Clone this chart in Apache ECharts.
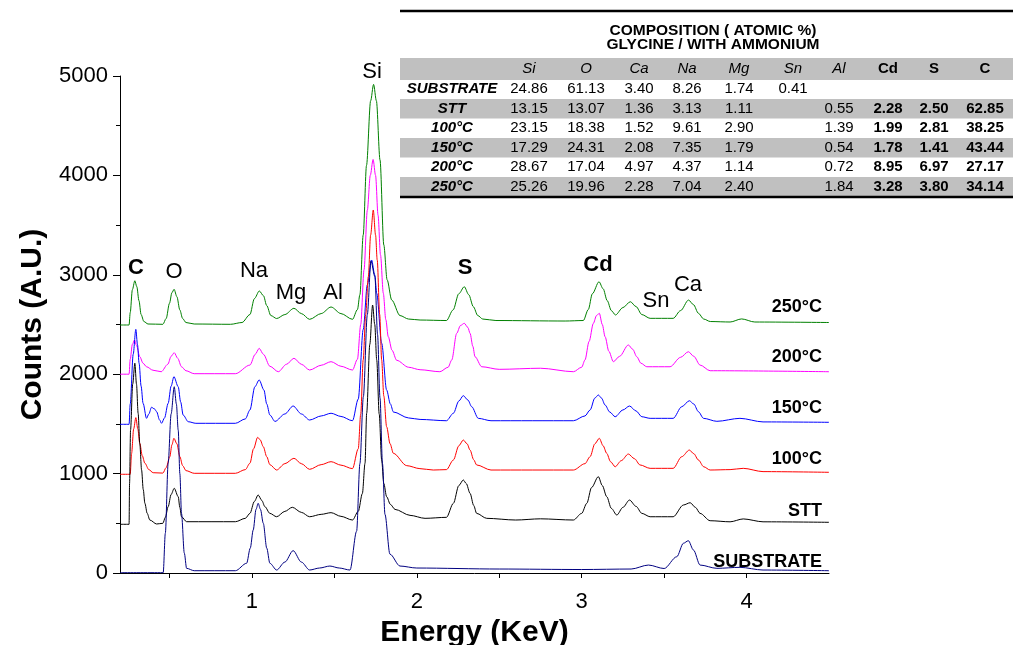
<!DOCTYPE html>
<html>
<head>
<meta charset="utf-8">
<script src="https://cdn.jsdelivr.net/npm/echarts@6/dist/echarts.min.js"></script>
<style>
html, body { margin: 0; padding: 0; background: #fff; }
#chart { width: 1013px; height: 645px; }
</style>
</head>
<body>
<div id="chart"></div>
<script>
// EDS spectra, energy (keV) vs counts, each sample offset by 500
var spec250 = [[0.2,2495],[0.255,2495],[0.262,2620],[0.275,2850],[0.29,2940],[0.302,2880],[0.315,2740],[0.328,2600],[0.345,2530],[0.37,2505],[0.46,2502],[0.48,2560],[0.5,2713],[0.515,2820],[0.528,2854],[0.545,2780],[0.563,2646],[0.58,2560],[0.6,2520],[0.65,2505],[0.87,2502],[0.94,2520],[0.988,2600],[1.015,2760],[1.045,2837],[1.07,2790],[1.09,2690],[1.115,2590],[1.15,2560],[1.2,2600],[1.255,2663],[1.3,2610],[1.35,2552],[1.42,2610],[1.48,2676],[1.54,2610],[1.61,2552],[1.64,2650],[1.655,2800],[1.675,3400],[1.695,4100],[1.72,4750],[1.738,4915],[1.755,4750],[1.777,4155],[1.8,3300],[1.82,2950],[1.848,2746],[1.898,2590],[1.95,2555],[2.02,2545],[2.18,2540],[2.22,2646],[2.255,2810],[2.288,2880],[2.315,2800],[2.343,2679],[2.37,2590],[2.4,2555],[2.48,2540],[2.9,2535],[3.01,2540],[3.04,2650],[3.065,2810],[3.105,2930],[3.13,2860],[3.155,2740],[3.18,2640],[3.205,2596],[3.25,2670],[3.295,2729],[3.33,2680],[3.365,2600],[3.415,2562],[3.555,2562],[3.6,2640],[3.648,2746],[3.678,2700],[3.708,2613],[3.74,2555],[3.78,2530],[3.9,2525],[3.97,2556],[4.05,2525],[4.5,2520]];
var spec200 = [[0.2,2000],[0.255,2000],[0.262,2150],[0.275,2300],[0.288,2344],[0.3,2290],[0.32,2176],[0.34,2110],[0.361,2075],[0.4,2040],[0.45,2025],[0.49,2100],[0.51,2180],[0.529,2216],[0.55,2160],[0.573,2075],[0.6,2035],[0.65,2005],[0.9,2005],[0.988,2092],[1.02,2200],[1.044,2260],[1.07,2200],[1.109,2080],[1.16,2025],[1.21,2100],[1.255,2160],[1.3,2100],[1.35,2042],[1.42,2090],[1.48,2126],[1.54,2080],[1.61,2042],[1.64,2150],[1.66,2500],[1.68,3050],[1.7,3650],[1.718,4000],[1.735,4160],[1.75,4000],[1.765,3600],[1.78,3200],[1.797,2814],[1.812,2550],[1.827,2377],[1.85,2240],[1.878,2140],[1.95,2070],[2.02,2045],[2.14,2025],[2.19,2070],[2.212,2143],[2.242,2411],[2.265,2490],[2.288,2512],[2.31,2470],[2.323,2411],[2.34,2280],[2.353,2176],[2.394,2075],[2.5,2049],[2.75,2060],[2.95,2025],[3.0,2070],[3.02,2143],[3.045,2330],[3.071,2512],[3.09,2590],[3.107,2613],[3.125,2500],[3.142,2377],[3.165,2230],[3.192,2126],[3.23,2180],[3.283,2294],[3.31,2250],[3.334,2176],[3.36,2110],[3.395,2075],[3.536,2075],[3.6,2170],[3.647,2226],[3.68,2180],[3.718,2092],[3.779,2035],[4.5,2025]];
var spec150 = [[0.2,1496],[0.255,1496],[0.262,1700],[0.28,2200],[0.296,2451],[0.306,2300],[0.316,2110],[0.328,1880],[0.34,1707],[0.361,1556],[0.375,1600],[0.391,1667],[0.41,1650],[0.422,1623],[0.44,1540],[0.452,1506],[0.47,1560],[0.492,1707],[0.51,1880],[0.527,1975],[0.553,1874],[0.568,1720],[0.583,1589],[0.614,1522],[0.66,1506],[0.9,1506],[0.96,1550],[0.988,1640],[1.018,1874],[1.044,1942],[1.073,1841],[1.09,1700],[1.109,1589],[1.14,1525],[1.2,1600],[1.25,1680],[1.3,1600],[1.35,1539],[1.42,1580],[1.48,1607],[1.54,1575],[1.61,1532],[1.645,1750],[1.675,2450],[1.7,2900],[1.726,3149],[1.745,3000],[1.757,2814],[1.787,2311],[1.817,1841],[1.84,1700],[1.858,1620],[1.95,1560],[2.02,1545],[2.18,1532],[2.222,1607],[2.255,1730],[2.282,1784],[2.31,1740],[2.333,1673],[2.373,1556],[2.45,1532],[2.95,1532],[3.02,1580],[3.051,1640],[3.08,1760],[3.101,1791],[3.12,1760],[3.142,1690],[3.17,1620],[3.203,1572],[3.25,1640],[3.29,1680],[3.33,1630],[3.365,1572],[3.415,1556],[3.555,1556],[3.607,1673],[3.653,1733],[3.68,1700],[3.708,1623],[3.739,1556],[3.82,1526],[3.96,1556],[4.1,1520],[4.5,1516]];
var spec100 = [[0.2,993],[0.262,993],[0.27,1200],[0.283,1450],[0.296,1563],[0.308,1450],[0.32,1305],[0.335,1180],[0.351,1104],[0.375,1040],[0.401,1009],[0.46,1005],[0.48,1060],[0.502,1170],[0.515,1290],[0.527,1355],[0.545,1300],[0.563,1170],[0.58,1080],[0.6,1030],[0.65,1003],[0.9,1003],[0.96,1040],[0.988,1104],[1.01,1250],[1.035,1365],[1.05,1340],[1.069,1271],[1.09,1170],[1.109,1090],[1.15,1036],[1.2,1100],[1.255,1154],[1.3,1100],[1.35,1043],[1.42,1090],[1.48,1120],[1.54,1085],[1.61,1050],[1.645,1250],[1.66,1600],[1.675,2143],[1.69,2600],[1.706,2981],[1.72,3400],[1.736,3652],[1.75,3400],[1.76,3149],[1.775,2600],[1.787,2143],[1.8,1780],[1.817,1472],[1.838,1300],[1.858,1204],[1.939,1080],[2.019,1050],[2.1,1036],[2.18,1040],[2.222,1137],[2.255,1280],[2.282,1338],[2.305,1300],[2.323,1237],[2.345,1140],[2.363,1087],[2.45,1036],[2.95,1036],[3.02,1100],[3.051,1170],[3.08,1300],[3.107,1355],[3.13,1280],[3.152,1204],[3.175,1120],[3.203,1069],[3.24,1130],[3.283,1197],[3.32,1150],[3.354,1087],[3.415,1053],[3.555,1053],[3.607,1170],[3.653,1237],[3.68,1200],[3.708,1137],[3.74,1069],[3.779,1036],[3.9,1040],[3.98,1053],[4.1,1020],[4.5,1013]];
var specSTT = [[0.2,490],[0.255,490],[0.258,900],[0.264,1439],[0.277,1900],[0.29,2110],[0.3,1900],[0.31,1607],[0.32,1300],[0.331,1036],[0.341,840],[0.351,701],[0.365,600],[0.381,533],[0.422,493],[0.46,500],[0.475,560],[0.492,667],[0.51,790],[0.529,852],[0.553,768],[0.563,660],[0.573,566],[0.604,516],[0.9,516],[0.96,550],[0.988,600],[1.015,720],[1.038,785],[1.06,730],[1.079,667],[1.109,600],[1.15,566],[1.2,620],[1.245,661],[1.3,610],[1.35,566],[1.42,590],[1.48,607],[1.54,570],[1.61,533],[1.645,620],[1.67,800],[1.686,1104],[1.696,1607],[1.715,2300],[1.732,2696],[1.745,2500],[1.757,2143],[1.772,1600],[1.787,1137],[1.8,900],[1.817,768],[1.84,690],[1.868,640],[1.959,580],[2.05,550],[2.18,560],[2.222,701],[2.255,880],[2.282,936],[2.3,900],[2.323,802],[2.345,680],[2.363,600],[2.424,550],[2.6,533],[2.75,545],[2.95,533],[3.0,600],[3.031,701],[3.06,860],[3.101,969],[3.125,880],[3.152,768],[3.18,650],[3.213,583],[3.25,660],[3.29,734],[3.33,670],[3.365,600],[3.415,566],[3.555,566],[3.617,684],[3.658,707],[3.69,660],[3.718,600],[3.779,526],[3.9,515],[3.98,544],[4.1,515],[4.5,510]];
var specSubstrate = [[0.2,3],[0.462,3],[0.475,400],[0.492,1104],[0.51,1600],[0.529,1874],[0.542,1700],[0.553,1439],[0.563,1000],[0.573,600],[0.59,200],[0.604,47],[0.65,23],[0.9,23],[0.968,98],[0.99,250],[1.008,433],[1.025,640],[1.038,701],[1.052,640],[1.069,500],[1.09,250],[1.109,98],[1.15,30],[1.2,110],[1.25,225],[1.3,110],[1.35,30],[1.41,50],[1.473,70],[1.53,50],[1.595,30],[1.635,420],[1.655,1100],[1.676,1774],[1.7,2600],[1.722,3140],[1.746,2981],[1.762,2400],[1.777,1760],[1.792,1100],[1.807,590],[1.837,190],[1.898,70],[2.0,50],[2.5,40],[3.0,35],[3.3,40],[3.405,80],[3.5,45],[3.577,164],[3.617,299],[3.647,325],[3.678,231],[3.718,80],[3.82,47],[3.96,57],[4.1,30],[4.5,23]];

var sampleNames = ['250°C', '200°C', '150°C', '100°C', 'STT', 'SUBSTRATE'];
var spectra = [spec250, spec200, spec150, spec100, specSTT, specSubstrate];
var lineColors = ['#008000', '#ff00ff', '#0000ff', '#ff0000', '#000000', '#000080'];

var xTickValues = [0.5, 1, 1.5, 2, 2.5, 3, 3.5, 4];
var xLabelValues = [1, 2, 3, 4];

// peak labels
var peakNames = ['C', 'O', 'Na', 'Mg', 'Al', 'Si', 'S', 'Cd', 'Sn', 'Ca'];
var peakBold = [true, false, false, false, false, false, true, true, false, false];
var peakPos = [[136, 268], [174, 272], [254, 271], [291, 293], [333, 293], [372, 72], [465, 268], [598, 265], [656, 301], [688, 285]];
var sampleLabelY = [307, 357, 408, 459, 511, 562];

// composition table
var tableTitle = ['COMPOSITION ( ATOMIC %)', 'GLYCINE / WITH AMMONIUM'];
var tableCols = ['Si', 'O', 'Ca', 'Na', 'Mg', 'Sn', 'Al', 'Cd', 'S', 'C'];
var tableRows = ['SUBSTRATE', 'STT', '100°C', '150°C', '200°C', '250°C'];
var rowSubstrate = ['24.86', '61.13', '3.40', '8.26', '1.74', '0.41', '', '', '', ''];
var rowSTT = ['13.15', '13.07', '1.36', '3.13', '1.11', '', '0.55', '2.28', '2.50', '62.85'];
var row100 = ['23.15', '18.38', '1.52', '9.61', '2.90', '', '1.39', '1.99', '2.81', '38.25'];
var row150 = ['17.29', '24.31', '2.08', '7.35', '1.79', '', '0.54', '1.78', '1.41', '43.44'];
var row200 = ['28.67', '17.04', '4.97', '4.37', '1.14', '', '0.72', '8.95', '6.97', '27.17'];
var row250 = ['25.26', '19.96', '2.28', '7.04', '2.40', '', '1.84', '3.28', '3.80', '34.14'];
var tableValues = [rowSubstrate, rowSTT, row100, row150, row200, row250];

var FONT = '"Liberation Sans", Arial, sans-serif';
var colX = [529, 586, 639, 687, 739, 793, 839, 888, 934, 985];
var rowY = [89, 109, 128, 148, 167, 187];

var graphics = [];
// table background bands
graphics.push({ type: 'rect', shape: { x: 400, y: 58, width: 613, height: 22 }, style: { fill: '#c0c0c0' }, z: 10 });
[1, 3, 5].forEach(function (r) {
  graphics.push({ type: 'rect', shape: { x: 400, y: rowY[r] - 10, width: 613, height: 19.5 }, style: { fill: '#c0c0c0' }, z: 10 });
});
graphics.push({ type: 'line', shape: { x1: 400, y1: 11, x2: 1013, y2: 11 }, style: { stroke: '#000', lineWidth: 2.5 }, z: 11 });
graphics.push({ type: 'line', shape: { x1: 400, y1: 197, x2: 1013, y2: 197 }, style: { stroke: '#000', lineWidth: 2.5 }, z: 11 });
tableTitle.forEach(function (t, i) {
  graphics.push({ type: 'text', z: 12, style: { text: t, x: 713, y: 31 + i * 14, textAlign: 'center', textVerticalAlign: 'middle',
    fontFamily: FONT, fontSize: 15.5, fontWeight: 'bold', fill: '#000' } });
});
tableCols.forEach(function (c, j) {
  var bold = j >= 7;
  graphics.push({ type: 'text', z: 12, style: { text: c, x: colX[j], y: 69, textAlign: 'center', textVerticalAlign: 'middle',
    fontFamily: FONT, fontSize: 15, fontWeight: bold ? 'bold' : 'normal', fontStyle: bold ? 'normal' : 'italic', fill: '#000' } });
});
tableRows.forEach(function (r, i) {
  graphics.push({ type: 'text', z: 12, style: { text: r, x: 452, y: rowY[i], textAlign: 'center', textVerticalAlign: 'middle',
    fontFamily: FONT, fontSize: 15, fontWeight: 'bold', fontStyle: 'italic', fill: '#000' } });
  tableValues[i].forEach(function (v, j) {
    if (!v) return;
    graphics.push({ type: 'text', z: 12, style: { text: v, x: colX[j], y: rowY[i], textAlign: 'center', textVerticalAlign: 'middle',
      fontFamily: FONT, fontSize: 15, fontWeight: j >= 7 ? 'bold' : 'normal', fill: '#000' } });
  });
});
// peak labels
peakNames.forEach(function (p, i) {
  graphics.push({ type: 'text', z: 12, style: { text: p, x: peakPos[i][0], y: peakPos[i][1], textAlign: 'center', textVerticalAlign: 'middle',
    fontFamily: FONT, fontSize: 22, fontWeight: peakBold[i] ? 'bold' : 'normal', fill: '#000' } });
});
// sample labels
sampleNames.forEach(function (s, i) {
  graphics.push({ type: 'text', z: 12, style: { text: s, x: 822, y: sampleLabelY[i], textAlign: 'right', textVerticalAlign: 'middle',
    fontFamily: FONT, fontSize: 18, fontWeight: 'bold', fill: '#000' } });
});

var chart = echarts.init(document.getElementById('chart'));
chart.setOption({
  animation: false,
  backgroundColor: '#fff',
  grid: { left: 120, right: 184, top: 76, bottom: 72, containLabel: false, outerBoundsMode: 'none' },
  xAxis: {
    type: 'value', min: 0.2, max: 4.5,
    name: 'Energy (KeV)', nameLocation: 'middle', nameGap: 44,
    nameTextStyle: { fontFamily: FONT, fontSize: 30, fontWeight: 'bold', color: '#000' },
    axisLine: { show: true, onZero: false, lineStyle: { color: '#000', width: 1 } },
    axisTick: { show: true, length: 5, customValues: xTickValues, lineStyle: { color: '#000' } },
    axisLabel: { customValues: xLabelValues, fontFamily: FONT, fontSize: 22, color: '#000', margin: 18,
      formatter: function (v) { return String(v); } },
    splitLine: { show: false }
  },
  yAxis: {
    type: 'value', min: 0, max: 5000, interval: 1000,
    name: 'Counts (A.U.)', nameLocation: 'middle', nameGap: 72, nameRotate: 90,
    nameTextStyle: { fontFamily: FONT, fontSize: 30, fontWeight: 'bold', color: '#000' },
    axisLine: { show: true, lineStyle: { color: '#000', width: 1 } },
    axisTick: { show: true, length: 7, lineStyle: { color: '#000' } },
    minorTick: { show: true, splitNumber: 2, length: 4, lineStyle: { color: '#000' } },
    axisLabel: { fontFamily: FONT, fontSize: 22, color: '#000', margin: 12,
      formatter: function (v) { return String(v); } },
    splitLine: { show: false }
  },
  series: spectra.map(function (d, i) {
    return {
      name: sampleNames[i], type: 'line', data: d, symbol: 'none', showSymbol: false,
      smooth: 0.3, smoothMonotone: 'x',
      lineStyle: { color: lineColors[i], width: 1 }, itemStyle: { color: lineColors[i] }
    };
  }),
  graphic: graphics
});
</script>
</body>
</html>
